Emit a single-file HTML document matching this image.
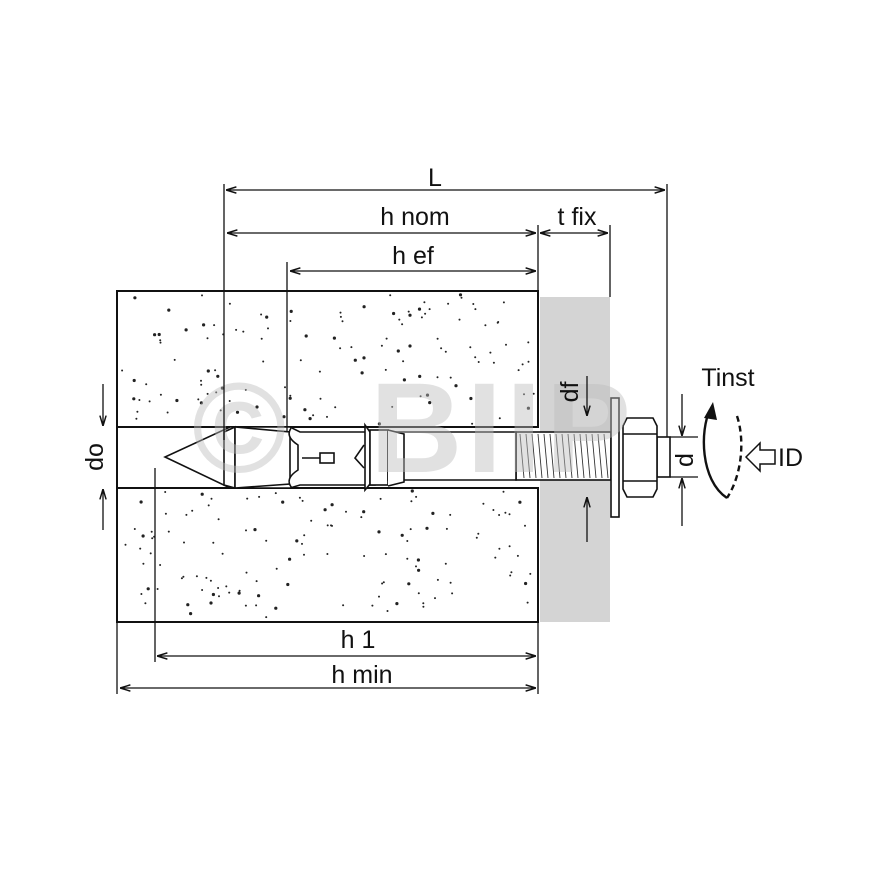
<!DOCTYPE html>
<html><head><meta charset="utf-8"><style>html,body{margin:0;padding:0;background:#fff}svg{display:block}text{font-family:"Liberation Sans",Arial,sans-serif;fill:#111}</style></head>
<body>
<svg id="s" width="880" height="880" viewBox="0 0 880 880" xmlns="http://www.w3.org/2000/svg">
<defs>
<marker id="a" viewBox="0 0 10 10" refX="10" refY="5" markerWidth="8" markerHeight="8" orient="auto-start-reverse"><path d="M0,2 L10,5 L0,8" fill="none" stroke="#111" stroke-width="1.4"/></marker>
</defs>
<rect width="880" height="880" fill="#fff"/>
<rect x="540" y="297" width="70" height="325" fill="#d4d4d4"/>
<g id="dots"></g>
<path d="M117,291 H538 V427 H117 Z M117,488 H538 V622 H117 Z" fill="none" stroke="#111" stroke-width="2"/>
<line x1="117" y1="291" x2="117" y2="622" stroke="#111" stroke-width="2"/>
<rect x="118" y="428" width="420" height="59" fill="#fff"/>
<line x1="117" y1="427" x2="117" y2="488" stroke="#111" stroke-width="2"/>
<g fill="#fff" stroke="#111" stroke-width="1.6">
<rect x="516" y="432" width="95" height="48"/>
<path d="M230,427 H290 L300,432 H375 V485 H300 L290,488 H230 L165,457 Z"/>
<path d="M224,432 L235,427 V488 L224,485 Z"/>
<path d="M235,427 L290,432 V484 L235,488 Z"/>
<path d="M292,427 Q284,436 298,445 V470 Q284,479 292,488"/>
<path d="M365,425 L370,432 V484 L365,490 Z"/>
<rect x="370" y="430" width="18" height="55"/>
<path d="M388,432 H516 V480 H388 Z"/>
<path d="M388,430 L404,434 V482 L388,486"/>
<rect x="320" y="453" width="14" height="10"/>
<path d="M302,458 H320" fill="none"/>
<path d="M364,445 L355,458 L364,468" fill="none"/>
</g>
<g stroke="#333" stroke-width="0.9">
<path d="M520,434 L524,478 M526,434 L530,478 M532,434 L536,478 M538,434 L542,478 M544,434 L548,478 M550,434 L554,478 M556,434 L560,478 M562,434 L566,478 M568,434 L572,478 M574,434 L578,478 M580,434 L584,478 M586,434 L590,478 M592,434 L596,478 M598,434 L602,478 M604,434 L608,478"/>
</g>
<rect x="611" y="398" width="8" height="119" fill="#fff" stroke="#111" stroke-width="1.6"/>
<rect x="657" y="437" width="13" height="40" fill="#fff" stroke="#111" stroke-width="1.6"/>
<path d="M627,418 H653 L657,426 V489 L653,497 H627 L623,489 V426 Z" fill="#fff" stroke="#111" stroke-width="1.6"/>
<line x1="623" y1="434" x2="657" y2="434" stroke="#111" stroke-width="1.4"/>
<line x1="623" y1="481" x2="657" y2="481" stroke="#111" stroke-width="1.4"/>
<!-- watermark overlay -->
<g style="opacity:0.45">
<text x="192" y="472" font-size="128" font-weight="bold" style="fill:#bdbdbd">©</text>
<text x="370" y="472" font-size="128" font-weight="bold" letter-spacing="4" style="fill:#bdbdbd">BIIP</text>
</g>
<g stroke="#111" stroke-width="1.3" fill="none">
<line x1="224" y1="184" x2="224" y2="440"/>
<line x1="667" y1="184" x2="667" y2="437"/>
<line x1="226" y1="190" x2="665" y2="190" marker-start="url(#a)" marker-end="url(#a)"/>
<line x1="538" y1="225" x2="538" y2="291"/>
<line x1="610" y1="225" x2="610" y2="297"/>
<line x1="227" y1="233" x2="536" y2="233" marker-start="url(#a)" marker-end="url(#a)"/>
<line x1="540" y1="233" x2="608" y2="233" marker-start="url(#a)" marker-end="url(#a)"/>
<line x1="287" y1="262" x2="287" y2="432"/>
<line x1="290" y1="271" x2="536" y2="271" marker-start="url(#a)" marker-end="url(#a)"/>
<line x1="155" y1="468" x2="155" y2="662"/>
<line x1="157" y1="656" x2="536" y2="656" marker-start="url(#a)" marker-end="url(#a)"/>
<line x1="117" y1="622" x2="117" y2="694"/>
<line x1="538" y1="622" x2="538" y2="694"/>
<line x1="120" y1="688" x2="536" y2="688" marker-start="url(#a)" marker-end="url(#a)"/>
<line x1="103" y1="384" x2="103" y2="426" marker-end="url(#a)"/>
<line x1="103" y1="530" x2="103" y2="489" marker-end="url(#a)"/>
<line x1="587" y1="376" x2="587" y2="416" marker-end="url(#a)"/>
<line x1="587" y1="542" x2="587" y2="497" marker-end="url(#a)"/>
<line x1="670" y1="437" x2="698" y2="437"/>
<line x1="670" y1="477" x2="698" y2="477"/>
<line x1="682" y1="394" x2="682" y2="436" marker-end="url(#a)"/>
<line x1="682" y1="526" x2="682" y2="478" marker-end="url(#a)"/>
</g>
<path d="M727,498 C700,480 700,430 710,410" fill="none" stroke="#111" stroke-width="2.4"/>
<path d="M704,418 L713,402 L717,420 Z" fill="#111"/>
<path d="M737,416 C745,440 742,475 727,498" fill="none" stroke="#111" stroke-width="2.4" stroke-dasharray="6,4"/>
<path d="M746,457 L760,443 V450 H775 V464 H760 V471 Z" fill="#fff" stroke="#111" stroke-width="1.5"/>
<g font-size="25">
<text x="435" y="186" text-anchor="middle">L</text>
<text x="415" y="225" text-anchor="middle">h nom</text>
<text x="577" y="225" text-anchor="middle">t fix</text>
<text x="413" y="264" text-anchor="middle">h ef</text>
<text x="358" y="648" text-anchor="middle">h 1</text>
<text x="362" y="683" text-anchor="middle">h min</text>
<text x="728" y="386" text-anchor="middle">Tinst</text>
<text x="778" y="466">ID</text>
<text transform="translate(103,457) rotate(-90)" text-anchor="middle">do</text>
<text transform="translate(578,392) rotate(-90)" text-anchor="middle">df</text>
<text transform="translate(693,460) rotate(-90)" text-anchor="middle">d</text>
</g>
</svg>
<script>
(function(){var g=document.getElementById('dots'),s=12345;function r(){s=(s*16807)%2147483647;return s/2147483647;}
var h='';for(var i=0;i<330;i++){var x=120+r()*415,y=294+r()*325;if(y>424&&y<491)continue;var rr=r()<0.3?1.6:1;h+='<circle cx="'+x.toFixed(1)+'" cy="'+y.toFixed(1)+'" r="'+rr+'" fill="#222"/>';}
g.innerHTML=h;})();
</script>
</body></html>
